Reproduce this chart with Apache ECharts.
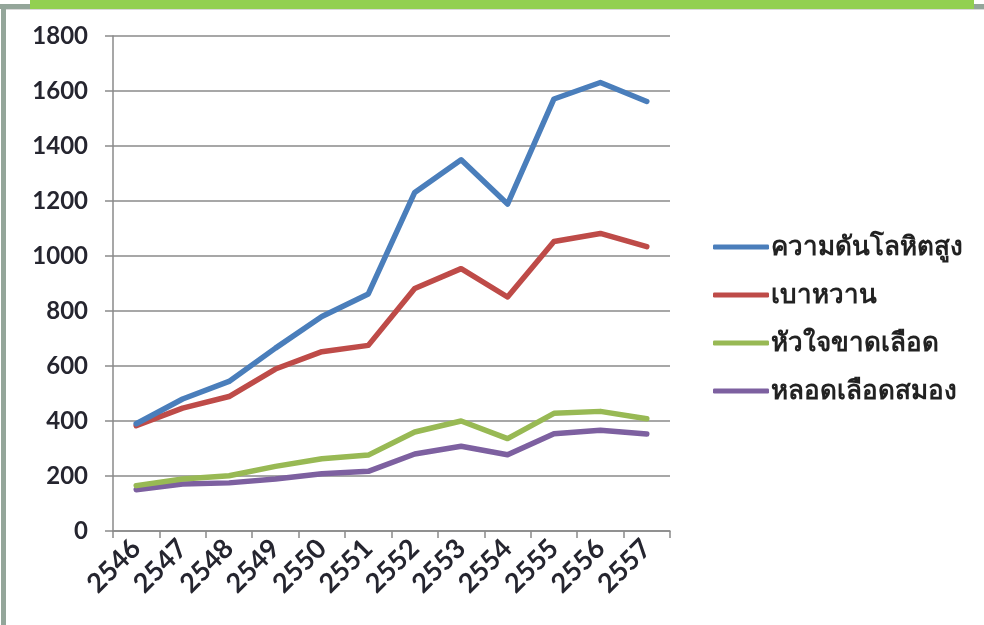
<!DOCTYPE html>
<html>
<head>
  <meta charset="UTF-8">
  <title>chart</title>
  <script src="https://cdn.jsdelivr.net/npm/echarts@6/dist/echarts.min.js"></script>
  <style>
    html, body { margin: 0; padding: 0; background: #fff; }
    #main { width: 984px; height: 625px; }
  </style>
</head>
<body>
<div id="main"></div>
<script type="text/javascript">
  var years = ['2546','2547','2548','2549','2550','2551','2552','2553','2554','2555','2556','2557'];
  var seriesNames = ['ความดันโลหิตสูง','เบาหวาน','หัวใจขาดเลือด','หลอดเลือดสมอง'];
  var hypertension = [390, 480, 544, 665, 780, 862, 1231, 1350, 1189, 1571, 1631, 1562];
  var diabetes     = [383, 447, 489, 589, 652, 675, 882, 954, 851, 1053, 1082, 1034];
  var heart        = [165, 189, 201, 235, 263, 276, 360, 400, 336, 428, 435, 408];
  var stroke       = [150, 171, 175, 189, 208, 217, 280, 308, 277, 354, 366, 353];
  var colors = ['#4a7ebb','#be4b48','#98b954','#7d60a0'];

  var chart = echarts.init(document.getElementById('main'));
  var font = 'Lato, "Noto Sans", sans-serif';

  function line(name, data, i){
    return {
      name: name,
      type: 'line',
      data: data,
      showSymbol: false,
      symbol: 'none',
      lineStyle: { width: 5.5, color: colors[i], cap: 'round', join: 'round' },
      itemStyle: { color: colors[i] },
      z: 10 - i
    };
  }

  chart.setOption({
    animation: false,
    grid: { left: 113, right: 314, top: 36, bottom: 94 },
    legend: {
      orient: 'vertical',
      left: 708,
      top: 226,
      data: seriesNames,
      icon: 'roundRect',
      itemWidth: 56,
      itemHeight: 5,
      itemGap: 16,
      textStyle: { fontFamily: font, fontSize: 26, fontWeight: 'bold', color: '#222', lineHeight: 32, padding: [0, 0, 0, -3] }
    },
    xAxis: {
      type: 'category',
      data: years,
      boundaryGap: true,
      axisLine: { lineStyle: { color: '#8a8a8a', width: 1.5 } },
      axisTick: { show: true, interval: 0, length: 7, lineStyle: { color: '#8a8a8a', width: 1.5 } },
      axisLabel: { interval: 0, hideOverlap: false, rotate: 45, margin: 13, fontFamily: font, fontSize: 27, fontWeight: 'bold', color: '#25252f' }
    },
    yAxis: {
      type: 'value',
      min: 0,
      max: 1800,
      interval: 200,
      axisLine: { show: true, lineStyle: { color: '#8a8a8a', width: 1.5 } },
      axisTick: { show: true, length: 8, lineStyle: { color: '#8a8a8a', width: 1.5 } },
      splitLine: { lineStyle: { color: '#8a8a8a', width: 1.5 } },
      axisLabel: {
        margin: 25, fontFamily: font, fontSize: 24, fontWeight: 'bold', color: '#25252f',
        formatter: function(v){ return String(v); }
      }
    },
    graphic: [
      { type: 'rect', shape: { x: 0, y: 4, width: 984, height: 5 }, style: { fill: '#94a69a' } },
      { type: 'rect', shape: { x: 1, y: 4, width: 5, height: 621 }, style: { fill: '#94a69a' } },
      { type: 'rect', shape: { x: 30, y: 0, width: 944, height: 9 }, style: { fill: '#92d050' } },
      { type: 'rect', shape: { x: 6, y: 9, width: 978, height: 1 }, style: { fill: '#d9d9d9' } }
    ],
    series: [
      line(seriesNames[0], hypertension, 0),
      line(seriesNames[1], diabetes, 1),
      line(seriesNames[2], heart, 2),
      line(seriesNames[3], stroke, 3)
    ]
  });
</script>
</body>
</html>
